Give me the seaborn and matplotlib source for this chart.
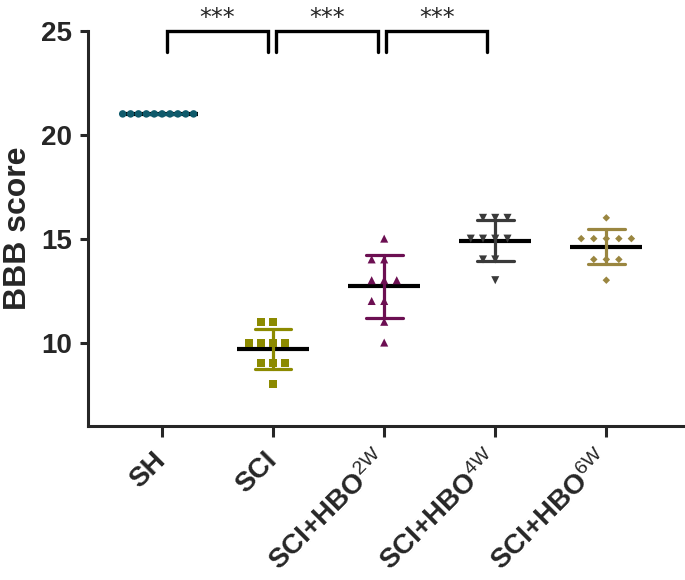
import pandas as pd
import matplotlib
matplotlib.use('Agg')
import matplotlib.pyplot as plt
import seaborn as sns

groups = ['SH', 'SCI', 'SCI+HBO2W', 'SCI+HBO4W', 'SCI+HBO6W']
sh = [21, 21, 21, 21, 21, 21, 21, 21, 21, 21]
sci = [11, 11, 10, 10, 10, 10, 9, 9, 9, 8]
hbo2w = [15, 14, 14, 13, 13, 13, 12, 12, 11, 10]
hbo4w = [16, 16, 16, 15, 15, 15, 15, 14, 14, 13]
hbo6w = [16, 15, 15, 15, 15, 15, 14, 14, 14, 13]
tick_labels = ['SH', 'SCI', r'SCI+HBO$\mathrm{^{2W}}$', r'SCI+HBO$\mathrm{^{4W}}$', r'SCI+HBO$\mathrm{^{6W}}$']
colors = ['#0f5a6b', '#8c8a00', '#6c0f52', '#3a3a3a', '#9a8640']
markers = ['o', 's', '^', 'v', 'D']
sizes = [5.4, 5.8, 5.8, 5.8, 3.8]
gaps = [0, 2.5, 2.8, 2.6, 4.8]

# significance brackets (group index pairs) and labels
brackets = [(0.04, 0.95), (1.03, 1.94), (2.02, 2.93)]
stars = ['***', '***', '***']

sns.set_style('ticks')
plt.rcParams['font.family'] = ['Liberation Sans', 'DejaVu Sans']
plt.rcParams['mathtext.fontset'] = 'custom'
plt.rcParams['mathtext.rm'] = 'Liberation Sans'

df = pd.DataFrame({
    'group': [groups[0]] * len(sh) + [groups[1]] * len(sci) + [groups[2]] * len(hbo2w)
             + [groups[3]] * len(hbo4w) + [groups[4]] * len(hbo6w),
    'score': sh + sci + hbo2w + hbo4w + hbo6w,
})

fig = plt.figure(figsize=(6.85, 5.8), dpi=100)
ax = fig.add_axes([0.128, 0.266, 0.869, 0.681])

# mean lines
sns.pointplot(data=df, x='group', y='score', order=groups, color='black', errorbar=None,
              linestyle='none', marker='_', markersize=52, markeredgewidth=3, zorder=1, ax=ax)

# SD bars
sns.pointplot(data=df, x='group', y='score', order=groups, hue='group', hue_order=groups,
              palette=colors, errorbar='sd', capsize=0.33, linestyle='none', markersize=0,
              err_kws={'linewidth': 2.3}, legend=False, ax=ax)

for g, c, m, s, gp in zip(groups, colors, markers, sizes, gaps):
    sns.swarmplot(data=df[df['group'] == g], x='group', y='score', order=groups,
                  color=c, marker=m, size=s, linewidth=gp, edgecolor='none', zorder=3, ax=ax)

for (x0, x1), txt in zip(brackets, stars):
    ax.plot([x0, x0, x1, x1], [24, 25, 25, 24], color='black', lw=2.4, clip_on=False,
            solid_joinstyle='miter')
    ax.text((x0 + x1) / 2, 25.3, txt, ha='center', va='baseline', fontsize=17,
            family='DejaVu Sans', clip_on=False)

ax.set_xlim(-0.67, 4.69)
ax.set_ylim(6, 25)
ax.set_yticks([10, 15, 20, 25])
ax.set_xticks(range(len(groups)))
ax.set_xticklabels(tick_labels, rotation=45, ha='right', va='center', rotation_mode='anchor',
                   fontsize=20, fontweight='bold')
for lbl in ax.get_yticklabels():
    lbl.set_fontweight('bold')
    lbl.set_fontsize(20)
ax.set_xlabel('')
ax.set_ylabel('BBB score', fontsize=23, fontweight='bold', labelpad=6)

sns.despine(ax=ax)
for sp in ['left', 'bottom']:
    ax.spines[sp].set_linewidth(2.2)
ax.tick_params(axis='y', width=2.2, length=6, pad=5)
ax.tick_params(axis='x', width=2.2, length=8, pad=14)

fig.savefig('out.png', dpi=100)
